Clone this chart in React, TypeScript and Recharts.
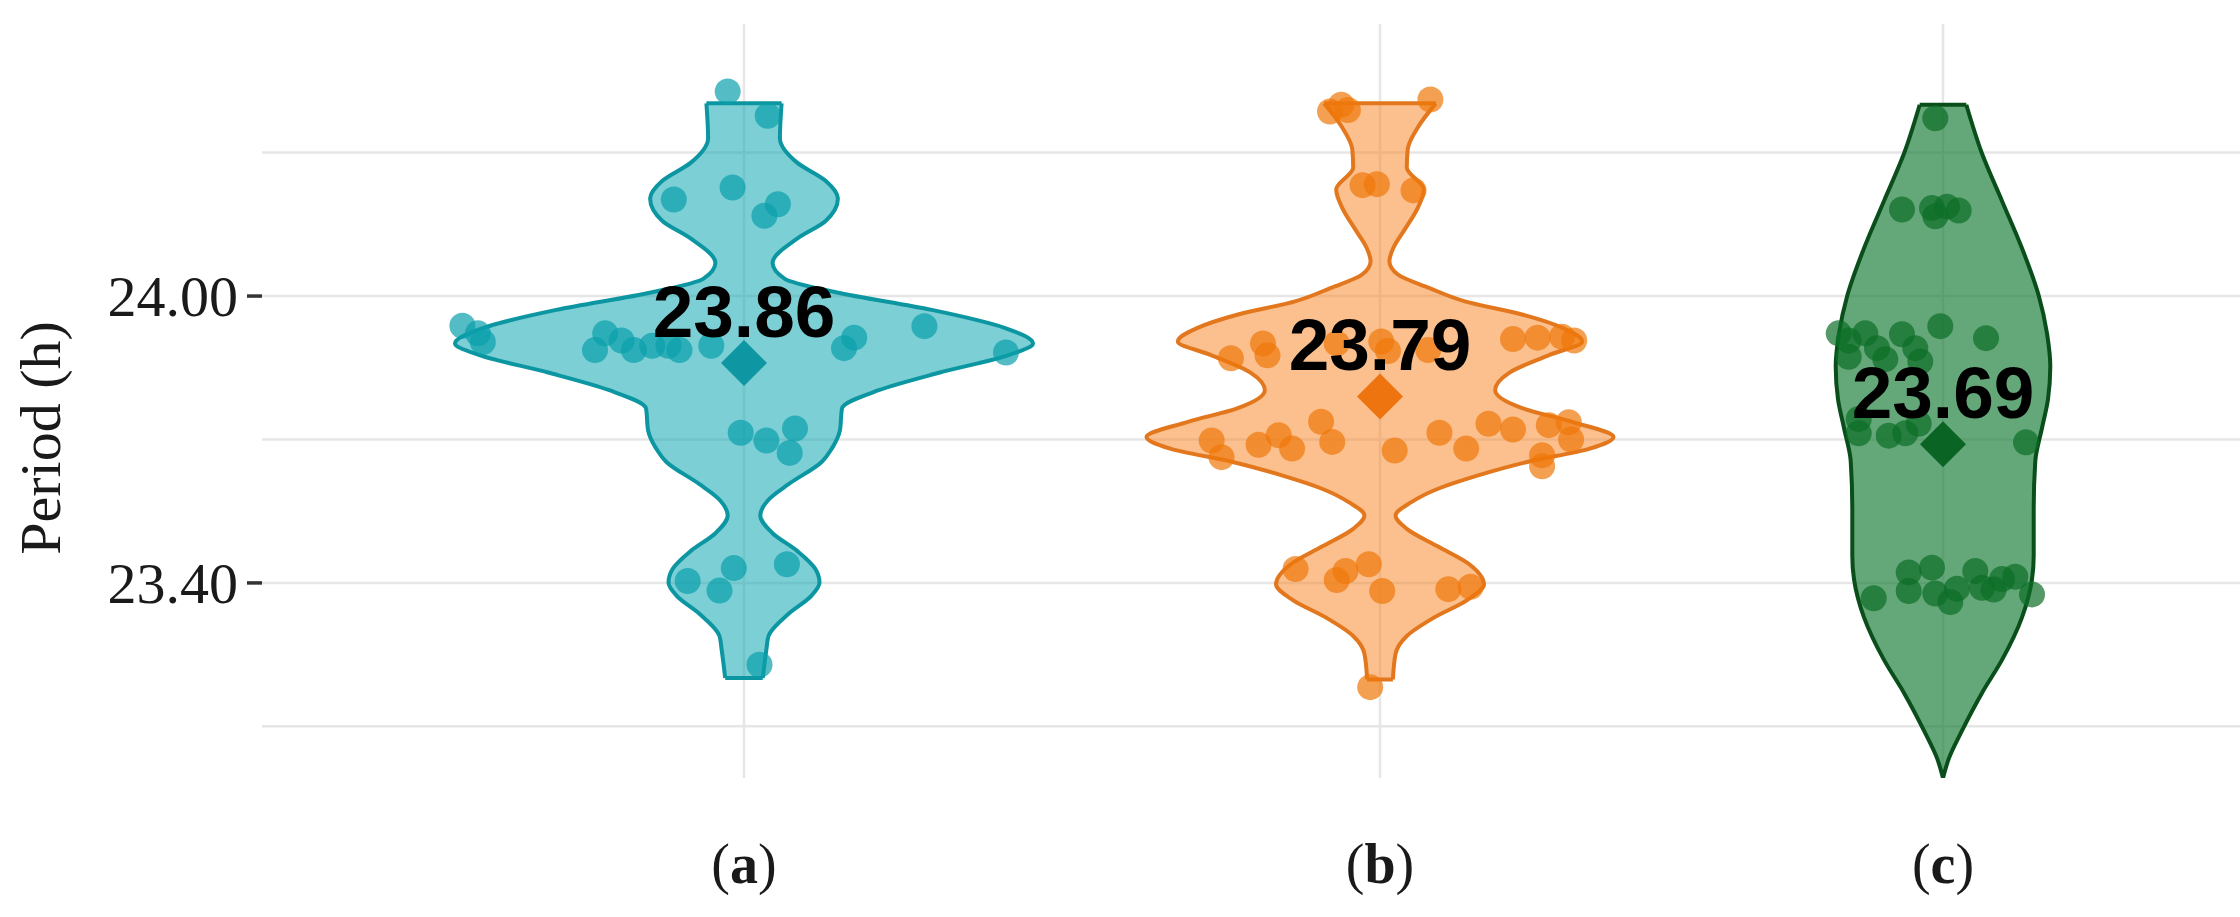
import React from 'react';
import { ComposedChart, Area, Scatter, XAxis, YAxis, CartesianGrid, ReferenceLine } from 'recharts';

// ---------- data ----------
const CATEGORIES = ['a', 'b', 'c'];
// horizontal position of each group on the x scale (x units)
const CATEGORY_POS = [482, 1118, 1681];
const MEAN_VALUES = [23.86, 23.79, 23.69];
const MEAN_LABELS = ['23.86', '23.79', '23.69'];
const Y_TICKS = [23.1, 23.4, 23.7, 24.0, 24.3];
const Y_LABELED_TICKS = [23.4, 24.0];
const Y_DOMAIN: [number, number] = [22.992, 24.569];
const X_DOMAIN: [number, number] = [0, 1978];

// violin outlines: [period (h), half width (x units)]
const VIOLIN_A: [number, number][] = [
  [24.403, 37.6], [24.33, 35.9], [24.279, 53.1], [24.241, 81.6], [24.204, 93.9],
  [24.157, 81.6], [24.12, 53.1], [24.069, 28.6], [24.036, 40.8], [24.008, 91.8],
  [23.971, 187.8], [23.933, 261.2], [23.901, 289], [23.877, 265.3], [23.84, 195.9],
  [23.803, 134.7], [23.765, 98], [23.719, 95.9], [23.681, 87.8], [23.653, 77.6],
  [23.607, 44.9], [23.574, 24.5], [23.541, 16.3], [23.504, 28.6], [23.467, 53.1],
  [23.429, 71.4], [23.401, 75.5], [23.373, 67.3], [23.336, 44.9], [23.289, 24.5],
  [23.261, 22.4], [23.201, 18.8],
];
const VIOLIN_B: [number, number][] = [
  [24.403, 55.8], [24.353, 37.9], [24.307, 27.7], [24.269, 26.8], [24.223, 43.8],
  [24.185, 37.9], [24.139, 24.6], [24.101, 13.4], [24.073, 9.4], [24.045, 17.9],
  [24.017, 49.1], [23.989, 84.8], [23.961, 142.9], [23.933, 183], [23.905, 202.2],
  [23.877, 169.6], [23.84, 129.5], [23.803, 115.2], [23.765, 142.9], [23.737, 192],
  [23.705, 233.5], [23.681, 209.8], [23.653, 147.3], [23.625, 98.2], [23.597, 58],
  [23.569, 31.3], [23.541, 15.6], [23.513, 26.8], [23.476, 58], [23.439, 89.3],
  [23.397, 104], [23.364, 87.1], [23.327, 53.6], [23.289, 26.8], [23.252, 15.6],
  [23.198, 12.9],
];
const VIOLIN_C: [number, number][] = [
  [24.4, 23.3], [24.298, 39], [24.199, 59], [24.1, 79], [24.001, 95.7],
  [23.922, 104], [23.853, 107.3], [23.784, 105], [23.724, 99], [23.655, 92.3],
  [23.556, 90.7], [23.457, 90.7], [23.408, 89], [23.328, 79], [23.239, 59],
  [23.17, 39], [23.091, 19], [23.032, 5.7], [22.992, 0],
];

// jittered observations: [horizontal jitter (x units), period (h)]
const DOTS_A: [number, number][] = [
  [-16.3, 24.428], [23.7, 24.377], [-11.4, 24.227], [-70.2, 24.202], [33.9, 24.192],
  [20.4, 24.168], [-281.6, 23.938], [-266.1, 23.922], [-261.2, 23.904], [-138.8, 23.922],
  [-149.0, 23.887], [-122.4, 23.907], [-110.2, 23.887], [-91.8, 23.896], [-75.5, 23.896],
  [-64.5, 23.887], [-32.7, 23.896], [110.2, 23.913], [100.0, 23.891], [180.4, 23.937],
  [262.0, 23.882], [-3.3, 23.714], [22.4, 23.698], [51.0, 23.723], [45.7, 23.672],
  [-56.3, 23.404], [-10.2, 23.431], [-24.5, 23.384], [42.9, 23.439], [15.5, 23.229],
];
const DOTS_B: [number, number][] = [
  [-50.0, 24.386], [-38.8, 24.4], [-32.1, 24.389], [50.4, 24.411], [-17.4, 24.232],
  [-3.1, 24.234], [33.5, 24.221], [-149.1, 23.87], [-117.0, 23.901], [-112.5, 23.876],
  [-43.3, 23.901], [1.3, 23.905], [8.0, 23.885], [48.2, 23.887], [133.0, 23.91],
  [157.6, 23.913], [182.1, 23.915], [194.2, 23.907], [-168.3, 23.698], [-158.5, 23.663],
  [-121.4, 23.689], [-101.3, 23.709], [-87.9, 23.681], [-58.9, 23.737], [-47.8, 23.695],
  [14.7, 23.677], [59.4, 23.714], [86.2, 23.681], [108.5, 23.733], [133.0, 23.721],
  [168.8, 23.73], [188.8, 23.736], [191.1, 23.7], [162.1, 23.667], [162.1, 23.644],
  [-84.4, 23.429], [-43.3, 23.406], [-34.4, 23.425], [-11.2, 23.439], [2.2, 23.383],
  [68.3, 23.387], [90.6, 23.392], [-9.8, 23.182],
];
const DOTS_C: [number, number][] = [
  [-7.7, 24.372], [-41.0, 24.181], [-11.0, 24.184], [4.0, 24.187], [15.7, 24.179],
  [-7.7, 24.167], [-104.3, 23.922], [-94.3, 23.907], [-94.3, 23.873], [-77.7, 23.922],
  [-66.0, 23.891], [-41.0, 23.92], [-27.7, 23.891], [-22.7, 23.863], [-2.7, 23.937],
  [43.0, 23.912], [-57.7, 23.868], [-84.3, 23.713], [-54.3, 23.708], [-37.7, 23.713],
  [83.0, 23.694], [-84.3, 23.743], [-24.3, 23.733], [-69.3, 23.368], [-34.3, 23.422],
  [-34.3, 23.383], [-11.0, 23.432], [-7.7, 23.378], [7.3, 23.36], [14.0, 23.388],
  [32.3, 23.425], [39.0, 23.39], [50.7, 23.386], [72.3, 23.413], [89.0, 23.376],
  [59.0, 23.408],
];

// ---------- styles ----------
const FILLS = ['#10a7b2', '#f7821e', '#1b7f3b'];
const FILL_OPACITY = [0.55, 0.5, 0.68];
const STROKES = ['#0c96a1', '#e2771d', '#0a4f1b'];
const DOT_COLORS = ['#0a9fab', '#f0780a', '#0b6e26'];
const MEAN_COLORS = ['#0e97a2', '#ee7410', '#0a6424'];
const SERIF = '"Liberation Serif", "Times New Roman", Times, serif';
const SANS = '"Liberation Sans", Arial, Helvetica, sans-serif';

const VIOLINS = [VIOLIN_A, VIOLIN_B, VIOLIN_C];
const DOTS = [DOTS_A, DOTS_B, DOTS_C];

const violinData = VIOLINS.map((v, i) =>
  v.map(([y, w]) => ({ y, range: [CATEGORY_POS[i] - w, CATEGORY_POS[i] + w] }))
);
const dotData = DOTS.map((d, i) => d.map(([dx, y]) => ({ x: CATEGORY_POS[i] + dx, y })));
const meanData = MEAN_VALUES.map((m, i) => ({
  x: CATEGORY_POS[i],
  y: m,
  label: MEAN_LABELS[i],
  color: MEAN_COLORS[i],
}));

// trimmed ends of violins (flat caps)
const caps: { x1: number; x2: number; y: number; color: string }[] = [];
VIOLINS.forEach((v, i) => {
  [v[0], v[v.length - 1]].forEach(([y, w]) => {
    if (w > 0) caps.push({ x1: CATEGORY_POS[i] - w, x2: CATEGORY_POS[i] + w, y, color: STROKES[i] });
  });
});

const YTick = (props: any) => {
  const { x, y, payload } = props;
  const v = payload.value;
  const labeled = Y_LABELED_TICKS.some((t) => Math.abs(t - v) < 1e-6);
  if (!labeled) return <g />;
  return (
    <g>
      <line x1={x - 15} x2={x} y1={y} y2={y} stroke="#333" strokeWidth={3.5} />
      <text
        x={x - 24}
        y={y}
        dy="0.34em"
        textAnchor="end"
        fontFamily={SERIF}
        fontSize={58}
        fill="#1a1a1a"
      >
        {v.toFixed(2)}
      </text>
    </g>
  );
};

const XTick = (props: any) => {
  const { x, y, payload } = props;
  const idx = CATEGORY_POS.indexOf(payload.value);
  const letter = idx >= 0 ? CATEGORIES[idx] : '';
  return (
    <text x={x} y={y + 105} textAnchor="middle" fontFamily={SERIF} fontSize={56} fill="#1a1a1a">
      <tspan fontWeight="normal">(</tspan>
      <tspan fontWeight="bold">{letter}</tspan>
      <tspan fontWeight="normal">)</tspan>
    </text>
  );
};

const YTitle = () => (
  <text
    x={40}
    y={438}
    transform="rotate(-90 40 438)"
    textAnchor="middle"
    dominantBaseline="central"
    fontFamily={SERIF}
    fontSize={58}
    fill="#1a1a1a"
  >
    Period (h)
  </text>
);

const makeDot = (color: string) => (props: any) => {
  const { cx, cy } = props;
  if (cx == null || cy == null) return <g />;
  return <circle cx={cx} cy={cy} r={13} fill={color} fillOpacity={0.7} />;
};

const MeanShape = (props: any) => {
  const { cx, cy, payload } = props;
  if (cx == null || cy == null) return <g />;
  const s = 23;
  return (
    <g>
      <polygon
        points={`${cx},${cy - s} ${cx + s},${cy} ${cx},${cy + s} ${cx - s},${cy}`}
        fill={payload.color}
      />
      <text
        x={cx}
        y={cy - 26}
        textAnchor="middle"
        fontFamily={SANS}
        fontWeight="bold"
        fontSize={73}
        fill="#000"
      >
        {payload.label}
      </text>
    </g>
  );
};

export default function App() {
  return (
    <div style={{ position: 'absolute', left: 0, top: 0, width: 2240, height: 917, background: '#fff' }}>
      <ComposedChart
        width={2240}
        height={917}
        layout="vertical"
        margin={{ top: 24, right: 0, bottom: 0, left: 0 }}
      >
        <CartesianGrid stroke="#e6e6e6" strokeWidth={2.5} syncWithTicks />
        <XAxis
          type="number"
          dataKey="x"
          domain={X_DOMAIN}
          allowDataOverflow
          ticks={CATEGORY_POS}
          tick={<XTick />}
          tickSize={0}
          tickMargin={0}
          axisLine={false}
          tickLine={false}
          height={139}
          interval={0}
        />
        <YAxis
          type="number"
          dataKey="y"
          domain={Y_DOMAIN}
          allowDataOverflow
          reversed
          ticks={Y_TICKS}
          tick={<YTick />}
          tickSize={0}
          tickMargin={0}
          axisLine={false}
          tickLine={false}
          width={262}
          interval={0}
          label={<YTitle />}
        />
        {violinData.map((d, i) => (
          <Area
            key={`v${i}`}
            data={d}
            dataKey="range"
            type="monotone"
            fill={FILLS[i]}
            fillOpacity={FILL_OPACITY[i]}
            stroke={STROKES[i]}
            strokeWidth={4}
            isAnimationActive={false}
            dot={false}
            activeDot={false}
          />
        ))}
        {caps.map((c, i) => (
          <ReferenceLine
            key={`cap${i}`}
            segment={[
              { x: c.x1, y: c.y },
              { x: c.x2, y: c.y },
            ]}
            stroke={c.color}
            strokeWidth={4}
            ifOverflow="visible"
          />
        ))}
        {dotData.map((d, i) => (
          <Scatter
            key={`d${i}`}
            data={d}
            shape={makeDot(DOT_COLORS[i])}
            isAnimationActive={false}
          />
        ))}
        <Scatter data={meanData} shape={<MeanShape />} isAnimationActive={false} />
      </ComposedChart>
    </div>
  );
}
